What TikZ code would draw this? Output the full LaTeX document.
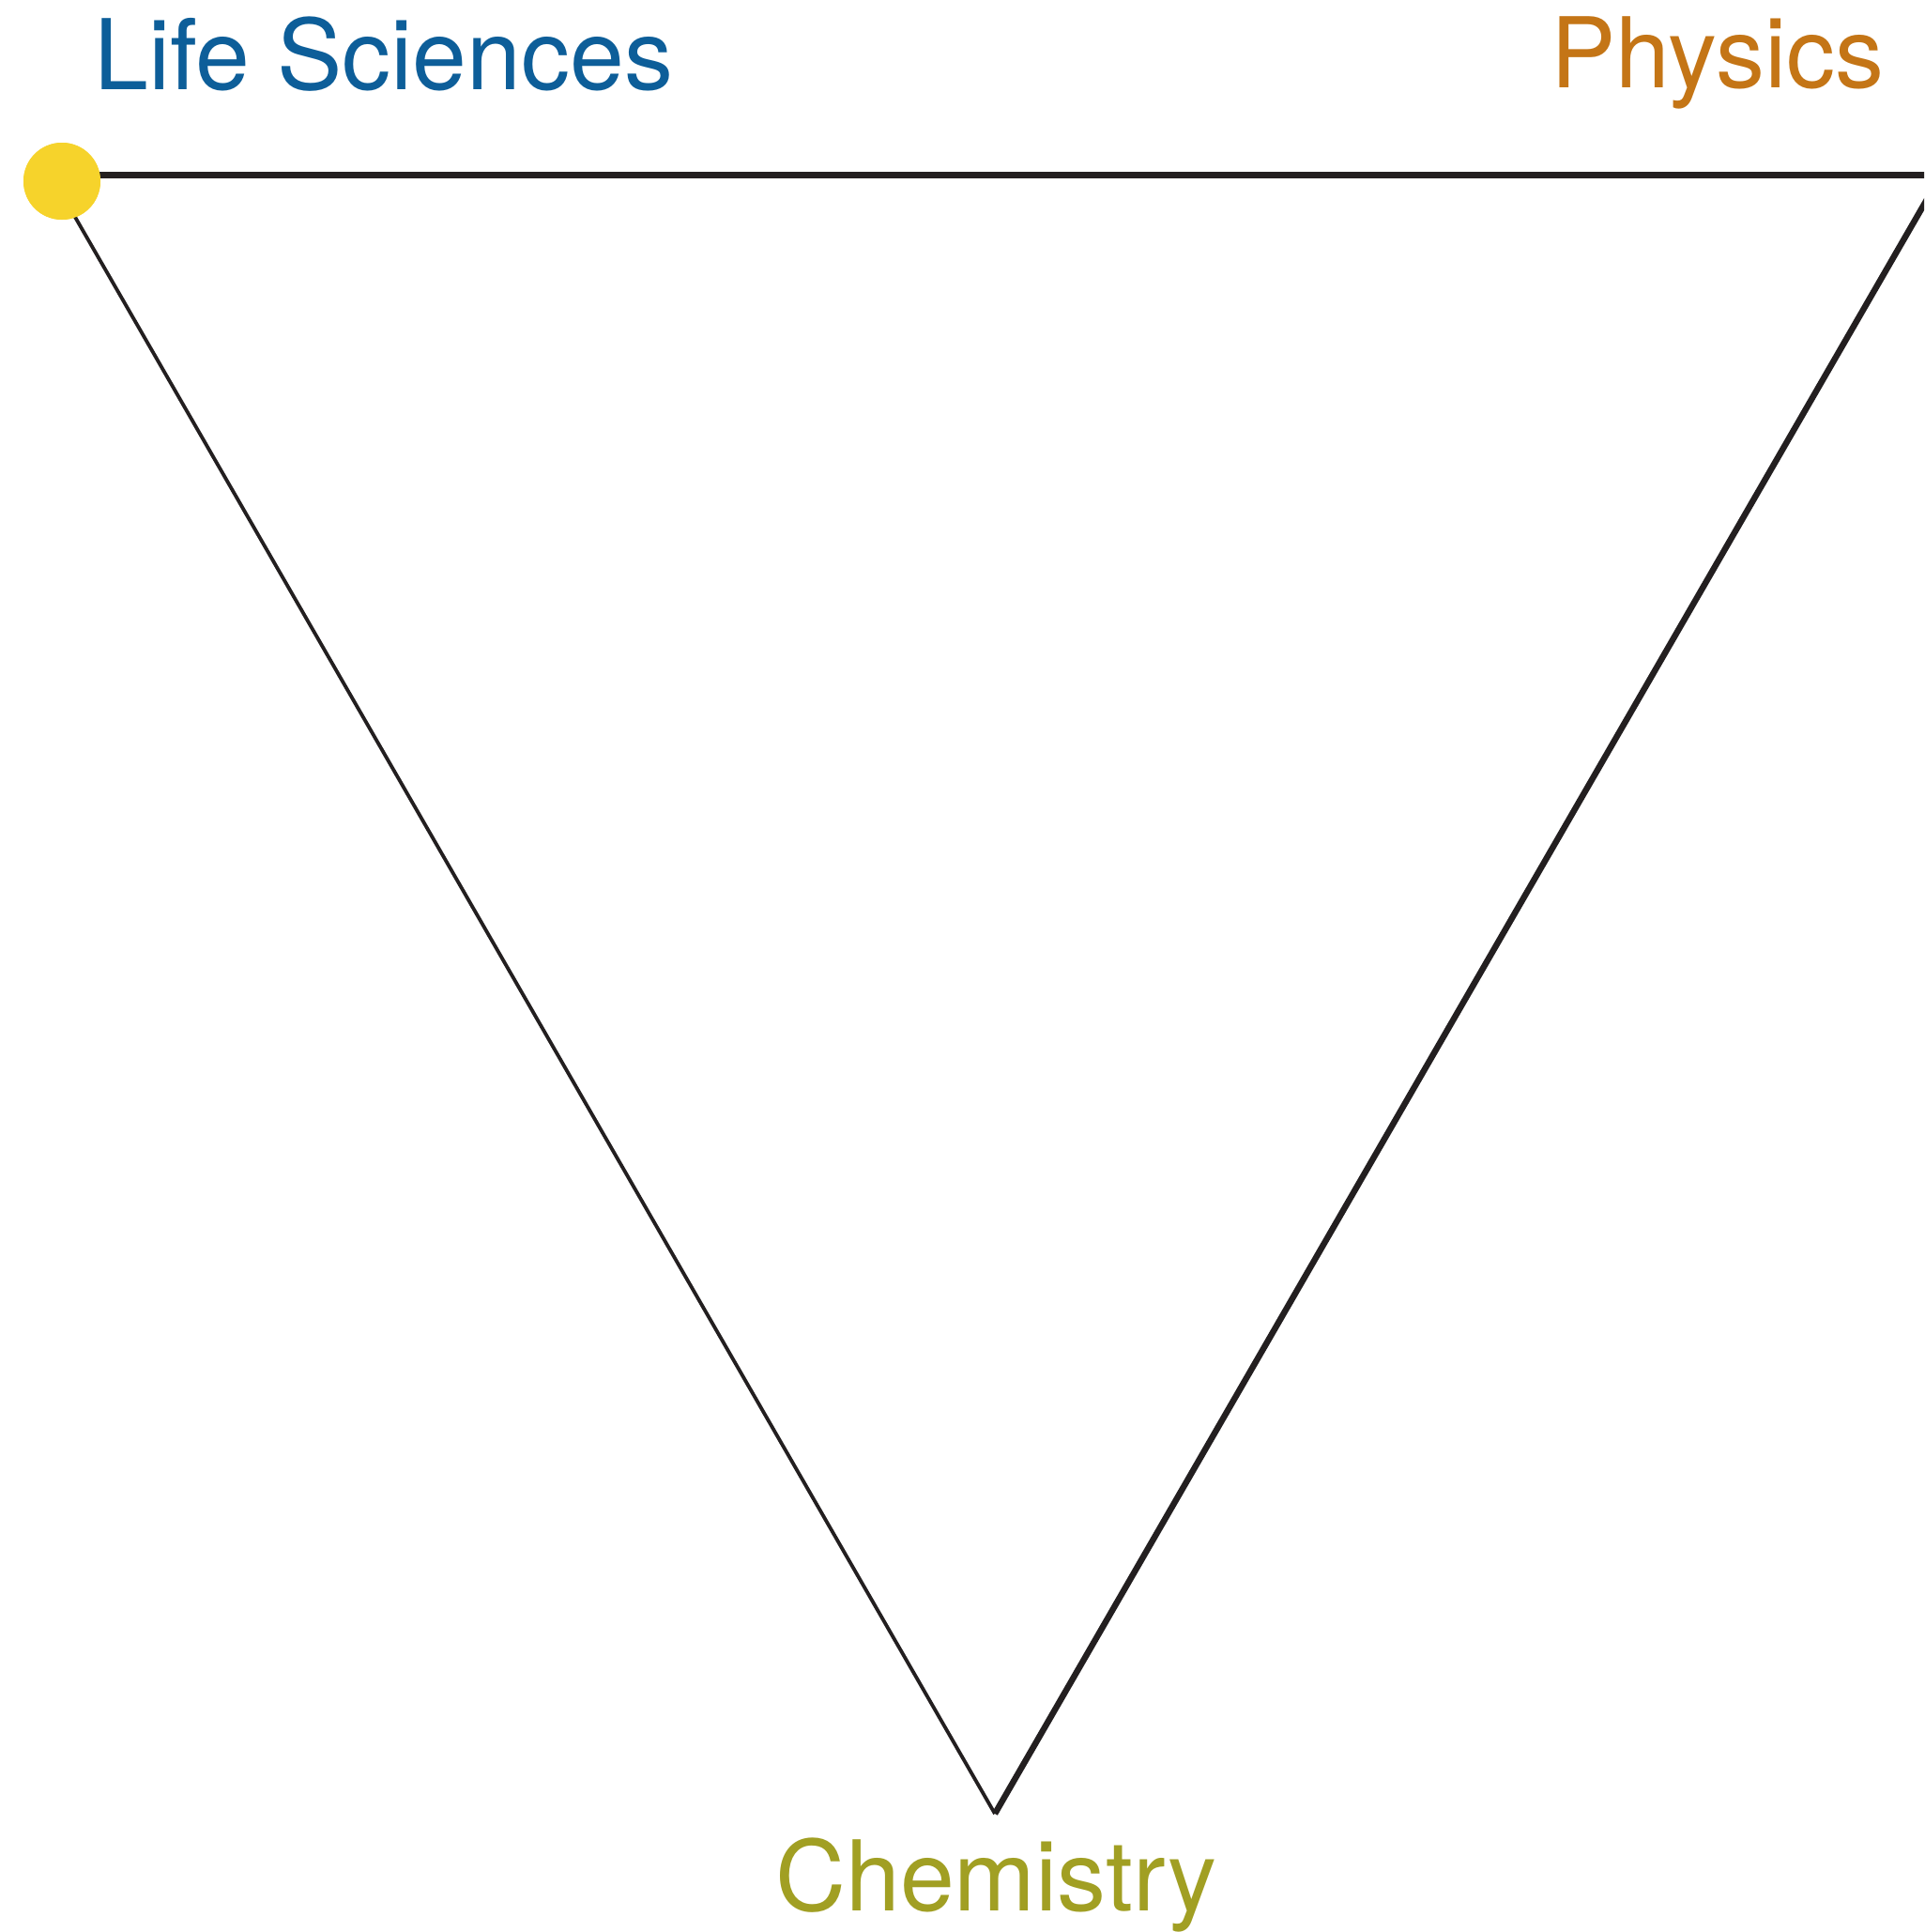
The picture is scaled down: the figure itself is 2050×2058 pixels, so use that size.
\documentclass[tikz,border=0pt]{standalone}
\usepackage{fontspec}
\setmainfont{TeX Gyre Heros}
\definecolor{lsblue}{RGB}{13,94,153}
\definecolor{phorange}{RGB}{196,117,22}
\definecolor{cholive}{RGB}{161,159,35}
\definecolor{dotyellow}{RGB}{246,211,43}
\definecolor{edgeblack}{RGB}{35,31,32}
\tikzset{
  label text/.style={font=\fontsize{104}{120}\selectfont, inner sep=0pt, anchor=base west},
  thick edge/.style={draw=edgeblack, line width=7pt},
  mid edge/.style={draw=edgeblack, line width=6.5pt},
  thin edge/.style={draw=edgeblack, line width=3.8pt},
  dotstyle/.style={circle, fill=dotyellow, draw=none, minimum size=82pt, inner sep=0pt}
}
\begin{document}
\begin{tikzpicture}[x=1pt,y=-1pt]
\clip (0,0) rectangle (2050,2058);
\fill[white] (0,0) rectangle (2050,2058);
\coordinate (tl) at (66,186.5);
\coordinate (tr) at (2068,186.5);
\coordinate (bot) at (1060,1932);
\draw[thick edge] (tl) -- (tr);
\draw[mid edge] (bot) -- (tr);
\node[dotstyle] (dot) at (66,193) {};
\draw[thin edge] (dot.center) ++(-8,0) -- (bot);
\node[dotstyle] (dot2) at (66,193) {};
\node[label text, text=lsblue] (life) at (100,95.7) {Life Sciences};
\node[label text, text=phorange] (phys) at (1652,93.3) {Physics};
\node[label text, text=cholive] (chem) at (826,2035) {Chemistry};
\end{tikzpicture}
\end{document}
